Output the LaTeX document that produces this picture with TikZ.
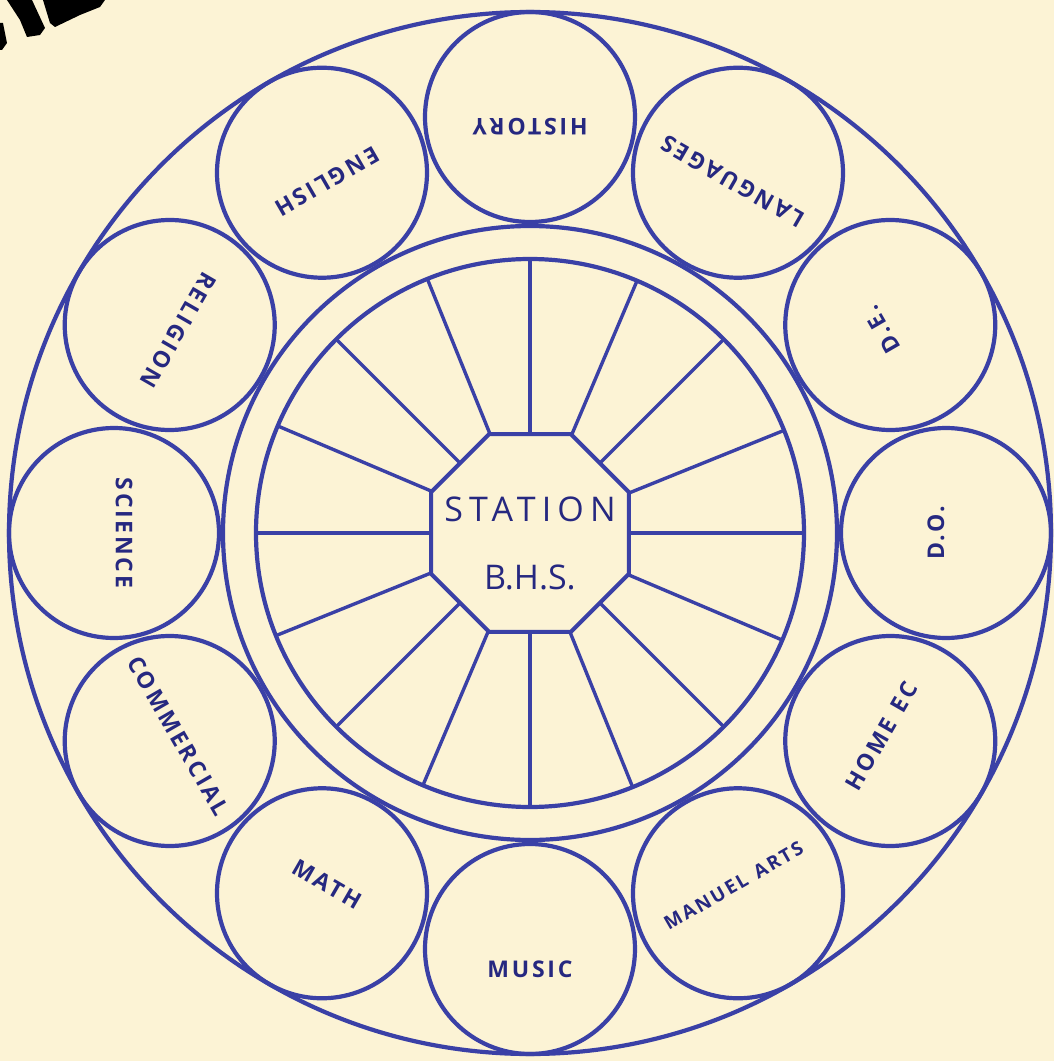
\documentclass[tikz,border=0pt]{standalone}
\usepackage{fontspec}
\usepackage{xcolor}
\usepackage{tikz}
\usetikzlibrary{shapes.geometric}
\newfontfamily\handfont[LetterSpace=12]{Open Sans}
\newfontfamily\hubfont[LetterSpace=18]{Open Sans}
\definecolor{bhsink}{RGB}{58,64,166}
\definecolor{bhstext}{RGB}{38,40,128}
\definecolor{bhspaper}{RGB}{252,243,213}
\tikzset{
  rim/.style={circle, draw=bhsink, line width=4.2pt, inner sep=0pt, outer sep=0pt},
  subject/.style={rim, minimum size=210pt, text=bhstext, text height=16pt, text depth=20pt,
    font=\handfont\bfseries\fontsize{23}{26}\selectfont},
  spoke/.style={draw=bhsink, line width=3.4pt},
}

\begin{document}
\begin{tikzpicture}[x=1pt, y=1pt]
\fill[bhspaper] (-530,-528) rectangle (524,533);
\useasboundingbox (-530,-528) rectangle (524,533);
% scan marks in the corner
\fill[black] (-523,533) -- (-498,533) -- (-485,505) -- (-490,498) -- (-503,496) -- (-510,513) -- cycle;
\fill[black] (-487,533) -- (-425,533) -- (-430,526) -- (-450,518) -- (-475,506) -- (-480,510) -- cycle;
\fill[black] (-530,510) -- (-527,510) -- (-523,490) -- (-528,483) -- (-530,483) -- cycle;

% wheel
\node[rim, minimum size=1042pt] (outer) at (0,0) {};
\node[rim, minimum size=614pt] (rimout) at (0,0) {};
\node[rim, minimum size=548pt] (rimin) at (0,0) {};
\node[regular polygon, regular polygon sides=8, draw=bhsink, line width=4pt,
  minimum size=214pt, inner sep=0pt, outer sep=0pt] (station) at (0,0) {};
\node[align=center, text=bhstext, font=\hubfont\fontsize{34}{68}\selectfont]
  (stationname) at (0,-10) {STATION\\{\addfontfeature{LetterSpace=0}B.H.S.}};
\foreach \a in {0,22.5,45,67.5,90,112.5,135,157.5,180,202.5,225,247.5,270,292.5,315,337.5}
  \draw[spoke] (station.\a) -- (rimin.\a);

% departments
\node[subject, rotate=180] (history) at (90:416) {HISTORY};
\node[subject, rotate=150] (languages) at (60:416) {LANGUAGES};
\node[subject, rotate=120] (de) at (30:416) {D.E.};
\node[subject, rotate=90] (do) at (0:416) {D.O.};
\node[subject, rotate=60] (homeec) at (-30:416) {HOME\enspace EC};
\node[subject, rotate=30, font=\handfont\bfseries\fontsize{19}{22}\selectfont] (manuel) at (-60:416) {MANUEL\enspace ARTS};
\node[subject, text height=56pt, text depth=0pt] (music) at (-90:416) {MUSIC};
\node[subject, rotate=-30] (math) at (-120:416) {MATH};
\node[subject, rotate=-60] (commercial) at (-150:416) {COMMERCIAL};
\node[subject, rotate=-90] (science) at (180:416) {SCIENCE};
\node[subject, rotate=-120] (religion) at (150:416) {RELIGION};
\node[subject, rotate=-150] (english) at (120:416) {ENGLISH};
\end{tikzpicture}
\end{document}
